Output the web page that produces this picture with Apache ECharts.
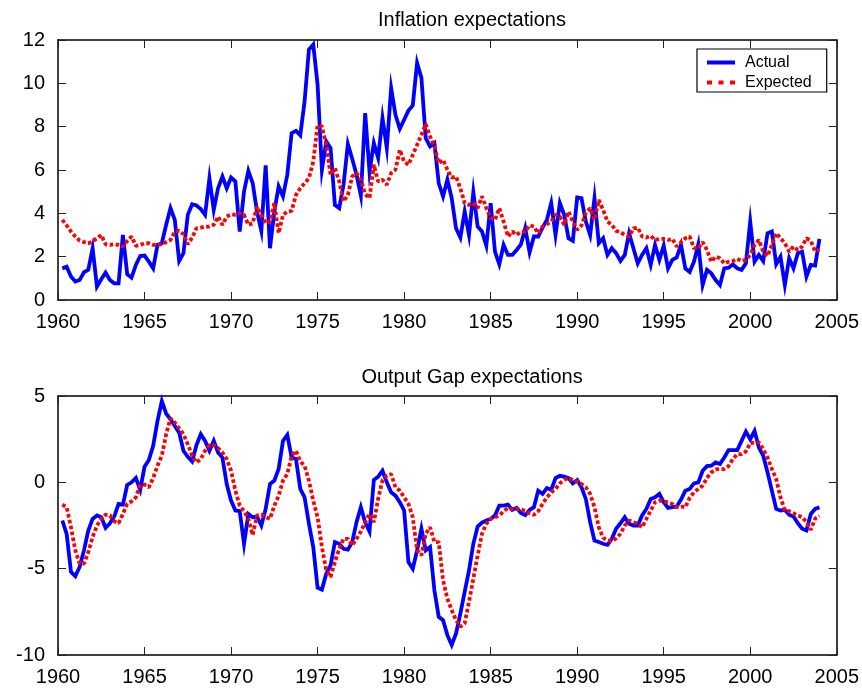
<!DOCTYPE html>
<html>
<head>
<meta charset="utf-8">
<title>Inflation and output gap expectations</title>
<script src="https://cdn.jsdelivr.net/npm/echarts@6/dist/echarts.min.js"></script>
<style>
  html, body { margin: 0; padding: 0; background: #ffffff; }
  #chart { width: 862px; height: 689px; }
</style>
</head>
<body>
<div id="chart"></div>
<script>
// Quarterly observations, first quarter plotted at 1960.25
const startYear = 1960.25;
const quarterStep = 0.25;

// Year ticks shared by both panels
const yearTicks = [1960, 1965, 1970, 1975, 1980, 1985, 1990, 1995, 2000, 2005];
const inflationTicks = [0, 2, 4, 6, 8, 10, 12];
const gapTicks = [-10, -5, 0, 5];

// Inflation, actual (percent)
const inflationActual = [
  1.46, 1.54, 1.08, 0.85, 0.92, 1.28, 1.39, 2.39, 0.62, 0.96,
  1.26, 0.92, 0.77, 0.77, 3.00, 1.19, 1.03, 1.62, 2.03, 2.05,
  1.77, 1.46, 2.54, 2.62, 3.47, 4.24, 3.70, 1.80, 2.16, 3.93,
  4.42, 4.36, 4.20, 3.93, 5.62, 4.16, 5.16, 5.70, 5.16, 5.65,
  5.47, 3.16, 5.01, 5.96, 5.39, 4.08, 3.19, 6.21, 2.39, 4.08,
  5.24, 4.78, 5.78, 7.70, 7.81, 7.60, 9.17, 11.56, 11.79, 9.94,
  6.01, 7.32, 7.01, 4.39, 4.24, 5.32, 7.20, 6.52, 5.78, 4.82,
  8.63, 5.93, 7.24, 6.55, 8.40, 7.01, 9.78, 8.55, 7.90, 8.32,
  8.74, 8.98, 10.94, 10.25, 7.47, 7.09, 7.24, 5.39, 4.78, 5.55,
  4.70, 3.31, 2.88, 4.08, 3.00, 4.98, 3.39, 3.16, 2.51, 4.47,
  2.23, 1.65, 2.54, 2.08, 2.08, 2.31, 2.57, 3.31, 2.20, 2.93,
  2.93, 3.34, 3.70, 4.47, 3.00, 4.47, 3.93, 2.85, 2.73, 4.73,
  4.70, 3.62, 3.00, 4.70, 2.62, 2.85, 2.08, 2.39, 2.16, 1.80,
  2.08, 3.08, 2.39, 1.69, 2.08, 2.39, 1.62, 2.54, 1.85, 2.51,
  1.46, 1.85, 1.96, 2.55, 1.46, 1.30, 1.77, 2.57, 0.69, 1.39,
  1.23, 0.92, 0.69, 1.46, 1.49, 1.65, 1.46, 1.39, 1.69, 3.62,
  1.77, 2.08, 1.80, 3.08, 3.16, 1.65, 2.00, 0.69, 1.93, 1.46,
  2.16, 2.23, 1.08, 1.62, 1.59, 2.82
];

// Inflation, expected (percent)
const inflationExpected = [
  3.70, 3.44, 3.16, 2.93, 2.74, 2.67, 2.62, 2.70, 2.85, 3.00,
  2.57, 2.54, 2.57, 2.54, 2.47, 2.73, 2.93, 2.50, 2.54, 2.62,
  2.62, 2.54, 2.54, 2.57, 2.67, 2.77, 3.16, 3.19, 3.04, 2.57,
  2.88, 3.31, 3.34, 3.39, 3.39, 3.47, 3.85, 3.47, 3.85, 3.96,
  3.93, 4.01, 3.93, 3.47, 3.54, 4.31, 3.93, 3.54, 3.62, 4.47,
  3.08, 3.93, 4.08, 4.11, 4.85, 5.16, 5.39, 5.62, 6.39, 8.06,
  8.01, 7.16, 5.78, 6.09, 5.47, 4.55, 4.85, 5.70, 5.86, 5.55,
  4.88, 4.70, 6.24, 5.47, 5.55, 5.32, 5.86, 6.01, 6.93, 6.39,
  6.24, 6.70, 7.16, 7.63, 8.12, 7.55, 7.09, 6.32, 6.47, 6.01,
  5.65, 5.70, 5.16, 4.47, 4.39, 4.47, 4.24, 4.78, 4.24, 3.78,
  3.70, 4.24, 3.62, 2.93, 3.16, 3.00, 3.16, 3.16, 3.45, 3.39,
  3.08, 3.39, 3.50, 3.62, 3.93, 3.85, 3.47, 4.08, 3.62, 3.24,
  3.44, 4.01, 4.24, 3.70, 4.62, 4.16, 3.62, 3.47, 3.19, 3.13,
  3.00, 2.93, 3.31, 3.34, 2.93, 2.88, 2.96, 2.77, 2.82, 2.82,
  2.77, 2.82, 2.47, 2.66, 2.85, 2.93, 2.39, 2.39, 2.67, 2.31,
  1.77, 2.00, 1.93, 1.69, 1.77, 1.80, 1.90, 1.80, 1.85, 2.08,
  2.54, 2.77, 2.23, 2.03, 2.54, 3.08, 2.85, 2.62, 2.23, 2.47,
  2.31, 2.47, 2.85, 2.73, 2.26, 2.30
];

// Output gap, actual (percent)
const gapActual = [
  -2.21, -2.98, -5.19, -5.44, -4.90, -3.94, -2.79, -2.12, -1.92, -2.02,
  -2.63, -2.37, -1.98, -1.25, -1.29, -0.15, 0.00, 0.25, -0.44, 0.90,
  1.29, 2.12, 3.56, 4.71, 3.98, 3.65, 3.27, 2.88, 1.83, 1.48,
  1.21, 2.15, 2.79, 2.40, 1.83, 2.40, 1.73, 1.44, -0.10, -1.06,
  -1.63, -1.67, -3.56, -1.83, -2.02, -1.98, -2.50, -1.54, -0.10, 0.10,
  0.77, 2.40, 2.75, 1.44, 1.35, -0.38, -0.87, -2.40, -3.75, -6.10,
  -6.21, -5.29, -4.81, -3.46, -3.56, -3.85, -3.90, -3.46, -2.31, -1.44,
  -2.31, -2.85, 0.13, 0.33, 0.67, 0.00, -0.58, -0.77, -1.15, -1.63,
  -4.62, -5.00, -3.94, -2.69, -3.94, -3.75, -6.25, -7.79, -7.98, -8.85,
  -9.42, -8.75, -7.60, -6.35, -5.10, -3.56, -2.56, -2.33, -2.21, -2.12,
  -1.92, -1.35, -1.35, -1.29, -1.60, -1.48, -1.77, -1.90, -1.60, -1.44,
  -0.48, -0.67, -0.33, -0.44, 0.25, 0.38, 0.33, 0.25, -0.06, 0.13,
  -0.29, -0.96, -2.31, -3.37, -3.46, -3.56, -3.62, -3.27, -2.69, -2.37,
  -2.02, -2.40, -2.50, -2.50, -1.92, -1.54, -0.96, -0.87, -0.67, -1.15,
  -1.48, -1.44, -1.40, -1.00, -0.48, -0.38, -0.06, 0.00, 0.67, 0.94,
  0.96, 1.15, 1.06, 1.44, 1.87, 1.87, 1.87, 2.40, 2.94, 2.50,
  2.98, 2.02, 1.54, 0.58, -0.48, -1.54, -1.63, -1.60, -1.87, -1.98,
  -2.37, -2.69, -2.79, -1.83, -1.54, -1.44
];

// Output gap, expected (percent)
const gapExpected = [
  -1.29, -1.44, -2.60, -3.94, -4.71, -4.71, -4.04, -3.17, -2.50, -2.12,
  -1.87, -1.92, -2.25, -2.37, -1.83, -1.25, -1.10, -0.87, -0.15, -0.13,
  -0.29, 0.25, 0.96, 1.54, 2.79, 3.71, 3.46, 3.13, 2.79, 2.21,
  1.54, 1.15, 1.35, 1.83, 2.15, 2.15, 1.98, 1.73, 1.35, 0.67,
  -0.48, -1.35, -1.67, -2.12, -3.05, -1.92, -1.87, -2.02, -2.12, -1.35,
  -0.77, 0.10, 0.48, 1.54, 1.83, 1.21, 0.96, 0.10, -1.06, -2.02,
  -3.75, -5.10, -5.48, -4.62, -3.85, -3.27, -3.27, -3.65, -3.27, -2.85,
  -2.31, -1.83, -2.31, -0.96, 0.13, 0.38, 0.48, -0.29, -0.48, -0.87,
  -1.25, -2.02, -3.94, -4.23, -2.98, -2.60, -3.46, -3.46, -5.67, -6.73,
  -7.40, -7.98, -8.37, -8.17, -6.92, -5.58, -4.23, -2.98, -2.40, -2.12,
  -2.02, -1.92, -1.67, -1.48, -1.54, -1.54, -1.57, -1.65, -1.80, -1.88,
  -1.67, -1.25, -0.87, -0.58, -0.38, -0.06, 0.15, 0.25, 0.13, 0.04,
  -0.10, -0.29, -0.67, -1.44, -2.60, -3.21, -3.37, -3.40, -3.25, -2.98,
  -2.50, -2.21, -2.31, -2.40, -2.60, -2.12, -1.63, -1.15, -1.06, -1.12,
  -1.15, -1.25, -1.44, -1.40, -1.45, -0.90, -0.58, -0.38, -0.19, 0.25,
  0.58, 0.75, 0.77, 0.77, 0.94, 1.35, 1.63, 1.63, 1.79, 2.27,
  2.31, 2.31, 1.92, 1.44, 0.77, 0.19, -0.87, -1.63, -1.67, -1.79,
  -1.92, -2.02, -2.31, -2.75, -2.10, -1.95
];

const seriesNames = ['Actual', 'Expected'];
const panelTitles = ['Inflation expectations', 'Output Gap expectations'];

// Attach the quarter date to each observation
const toPairs = values => values.map((v, i) => [startYear + i * quarterStep, v]);

const FONT = "'Liberation Sans', Arial, Helvetica, sans-serif";
const BLACK = '#000000';
const ACTUAL_COLOR = '#0000ff';
const EXPECTED_COLOR = '#ff0000';

const grids = [
  { left: 58, right: 25, top: 40, height: 260 },
  { left: 58, right: 25, top: 396, height: 259 }
];

function span(ticks) {
  return { min: ticks[0], max: ticks[ticks.length - 1], interval: ticks[1] - ticks[0] };
}

function frameAxis(extra) {
  return Object.assign({
    axisLine: { show: true, onZero: false, lineStyle: { color: BLACK, width: 1.5 } },
    axisTick: { show: true, inside: true, length: 8, lineStyle: { color: '#222222', width: 1 } },
    splitLine: { show: false },
    axisLabel: { show: false }
  }, extra);
}

// Plain numbers, no thousands separators
const labelStyle = {
  show: true, color: BLACK, fontFamily: FONT, fontSize: 20,
  formatter: v => String(v)
};

const xAxes = [];
const yAxes = [];
[inflationTicks, gapTicks].forEach((yt, g) => {
  const xs = span(yearTicks);
  const ys = span(yt);
  xAxes.push(frameAxis({ type: 'value', gridIndex: g, position: 'bottom', ...xs,
    axisLabel: { ...labelStyle, margin: 12 } }));
  xAxes.push(frameAxis({ type: 'value', gridIndex: g, position: 'top', ...xs }));
  yAxes.push(frameAxis({ type: 'value', gridIndex: g, position: 'left', ...ys,
    axisLabel: { ...labelStyle, margin: 13 } }));
  yAxes.push(frameAxis({ type: 'value', gridIndex: g, position: 'right', ...ys }));
});

function lineSeries(name, values, panel, dashed) {
  const color = dashed ? EXPECTED_COLOR : ACTUAL_COLOR;
  return {
    name: name,
    type: 'line',
    xAxisIndex: panel * 2,
    yAxisIndex: panel * 2,
    data: toPairs(values),
    symbol: 'none',
    showSymbol: false,
    smooth: false,
    animation: false,
    z: dashed ? 3 : 2,
    itemStyle: { color: color },
    lineStyle: dashed
      ? { color: color, width: 3.8, type: [3.6, 2.4], cap: 'butt' }
      : { color: color, width: 3.8, join: 'miter' }
  };
}

// Legend keys: a solid bar and a row of three square dots
const legendIcons = {
  Actual: 'path://M0,0H28V4H0Z',
  Expected: 'path://M0,0H5V4H0Z M11.5,0H16.5V4H11.5Z M23,0H28V4H23Z'
};

const option = {
  backgroundColor: '#ffffff',
  animation: false,
  textStyle: { fontFamily: FONT },
  title: [
    { text: panelTitles[0], left: 467, top: 5, textAlign: 'center',
      textStyle: { fontFamily: FONT, fontSize: 20, fontWeight: 'normal', color: BLACK } },
    { text: panelTitles[1], left: 467, top: 362, textAlign: 'center',
      textStyle: { fontFamily: FONT, fontSize: 20, fontWeight: 'normal', color: BLACK } }
  ],
  legend: {
    data: [
      { name: seriesNames[0], icon: legendIcons.Actual, itemStyle: { color: ACTUAL_COLOR } },
      { name: seriesNames[1], icon: legendIcons.Expected, itemStyle: { color: EXPECTED_COLOR } }
    ],
    orient: 'vertical',
    left: 697,
    top: 49,
    padding: [5, 15, 1, 10],
    itemGap: 3,
    itemWidth: 28,
    itemHeight: 4,
    borderColor: BLACK,
    borderWidth: 1.2,
    backgroundColor: '#ffffff',
    selectedMode: false,
    textStyle: { fontFamily: FONT, fontSize: 16, color: BLACK, padding: [0, 0, 0, 5], lineHeight: 17 }
  },
  grid: grids,
  xAxis: xAxes,
  yAxis: yAxes,
  series: [
    lineSeries(seriesNames[0], inflationActual, 0, false),
    lineSeries(seriesNames[1], inflationExpected, 0, true),
    lineSeries(seriesNames[0], gapActual, 1, false),
    lineSeries(seriesNames[1], gapExpected, 1, true)
  ]
};

const chart = echarts.init(document.getElementById('chart'), null, { renderer: 'canvas' });
chart.setOption(option);
</script>
</body>
</html>
